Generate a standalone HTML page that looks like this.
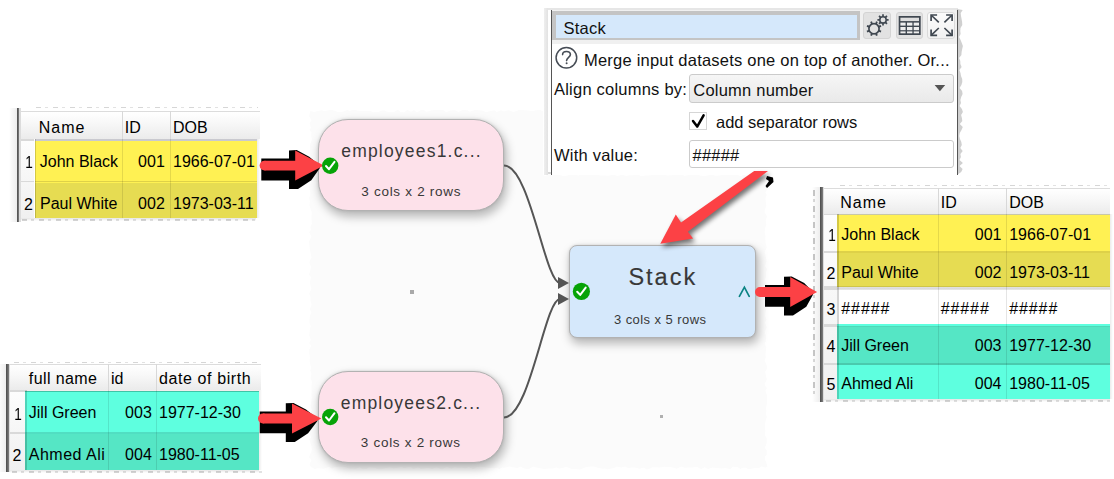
<!DOCTYPE html>
<html><head><meta charset="utf-8"><style>
html,body{margin:0;padding:0;width:1114px;height:479px;overflow:hidden;background:#fff;}
body{position:relative;font-family:"Liberation Sans", sans-serif;}
.t{position:absolute;white-space:nowrap;}
.r{position:absolute;}
svg{position:absolute;left:0;top:0;}
</style></head><body>
<div class="r" style="left:36px;top:107px;width:222.00px;height:1.00px;background:repeating-linear-gradient(90deg,#d6d6d6 0 5px,transparent 5px 9px,#e2e2e2 9px 12px,transparent 12px 17px);"></div>
<div class="r" style="left:22px;top:219px;width:236.00px;height:2.00px;background:repeating-linear-gradient(90deg,#d6d6d6 0 5px,transparent 5px 9px,#e2e2e2 9px 12px,transparent 12px 17px);"></div>
<div class="r" style="left:14px;top:362px;width:246.00px;height:1.00px;background:repeating-linear-gradient(90deg,#d6d6d6 0 5px,transparent 5px 9px,#e2e2e2 9px 12px,transparent 12px 17px);"></div>
<div class="r" style="left:12px;top:471px;width:250.00px;height:2.00px;background:repeating-linear-gradient(90deg,#d6d6d6 0 5px,transparent 5px 9px,#e2e2e2 9px 12px,transparent 12px 17px);"></div>
<div class="r" style="left:840px;top:185px;width:268.00px;height:1.00px;background:repeating-linear-gradient(90deg,#d6d6d6 0 5px,transparent 5px 9px,#e2e2e2 9px 12px,transparent 12px 17px);"></div>
<div class="r" style="left:826px;top:400px;width:284.00px;height:2.00px;background:repeating-linear-gradient(90deg,#d6d6d6 0 5px,transparent 5px 9px,#e2e2e2 9px 12px,transparent 12px 17px);"></div>
<div class="r" style="left:813px;top:190px;width:2.00px;height:208.00px;background:repeating-linear-gradient(180deg,#c8c8c8 0 6px,transparent 6px 9px,#dadada 9px 12px,transparent 12px 16px);"></div>
<div class="r" style="left:548px;top:172px;width:410.00px;height:2.00px;background:repeating-linear-gradient(90deg,#d6d6d6 0 5px,transparent 5px 9px,#e2e2e2 9px 12px,transparent 12px 17px);"></div>
<svg width="1114" height="479" style="position:absolute;left:0;top:0"><polygon points="310.5,110.9 314.2,112.1 317.6,111.0 321.3,110.2 324.9,111.3 329.3,109.9 332.2,109.9 336.6,111.5 338.7,112.3 343.6,111.4 347.5,110.1 349.5,111.1 351.7,110.2 354.4,109.8 357.8,110.8 362.3,111.0 366.2,111.0 370.2,110.9 373.1,112.3 378.1,111.9 382.2,110.5 384.9,110.5 387.1,111.7 390.3,111.9 393.4,112.2 398.0,109.7 400.6,112.1 404.0,112.2 407.2,109.9 411.1,111.7 413.9,109.9 416.9,112.2 421.2,110.0 423.9,110.0 426.1,111.8 428.6,111.2 432.0,110.2 436.2,110.0 440.1,110.0 443.4,110.3 446.2,112.2 450.6,110.5 455.2,110.2 458.4,111.9 462.3,110.0 467.3,110.3 470.1,111.7 473.1,110.5 475.3,109.9 479.0,110.3 482.9,110.7 486.2,112.2 489.7,111.2 494.3,110.2 496.7,112.1 501.2,110.3 503.7,111.6 508.6,110.2 513.4,112.0 517.2,110.8 519.5,109.8 524.4,110.3 528.5,110.4 533.0,111.3 535.9,110.2 540.1,109.9 542.7,111.2 543.0,111.0 543.0,175.0 543.0,175.3 545.8,176.0 548.5,173.8 551.3,174.9 553.4,174.2 556.5,175.2 558.9,174.7 563.6,176.2 567.6,175.5 571.3,174.1 573.4,173.8 578.2,175.5 583.1,173.9 587.0,175.0 591.2,174.6 596.2,174.0 599.8,175.6 604.5,175.6 608.6,175.7 613.4,174.6 617.4,176.0 622.0,174.8 626.4,175.9 630.1,175.3 633.3,175.2 637.1,174.0 641.0,176.2 645.6,175.5 648.8,175.6 652.6,174.9 657.1,174.0 661.3,173.9 665.1,175.0 667.8,175.5 671.3,175.3 676.1,174.4 678.1,174.5 682.1,174.3 684.6,176.0 688.6,174.9 693.3,174.6 697.3,174.3 700.6,175.7 705.3,175.9 708.5,175.2 711.4,174.1 714.9,175.8 719.5,175.5 724.3,174.5 726.8,174.9 729.7,174.3 732.9,175.3 736.4,174.6 740.9,176.2 744.3,174.0 746.3,175.9 748.5,175.5 752.2,174.5 756.6,173.8 759.0,174.9 761.0,175.8 763.8,174.1 765.9,175.3 765.6,175.0 765.1,179.0 765.4,183.8 766.1,186.4 767.5,189.0 765.4,192.4 766.7,194.9 765.4,198.0 765.7,201.5 766.3,205.8 764.8,210.2 764.7,212.4 767.1,216.6 765.6,220.0 766.4,224.7 764.9,228.4 764.7,232.8 765.5,236.2 765.3,238.8 765.6,243.2 766.9,247.4 764.6,252.1 765.9,257.0 766.5,261.4 764.9,266.1 767.3,269.2 765.8,272.5 766.0,276.8 765.1,278.9 765.1,281.1 766.5,283.6 767.1,288.0 766.0,290.4 765.0,294.6 764.7,298.7 764.7,302.1 766.8,304.4 766.6,308.0 765.6,312.2 765.0,315.7 766.6,319.4 765.0,322.5 766.9,327.2 764.6,331.8 765.8,335.4 765.9,338.0 765.7,341.5 764.6,343.6 766.3,347.1 765.8,351.5 765.4,355.0 765.9,357.2 764.6,360.4 766.7,365.2 767.1,368.6 765.1,371.9 766.1,376.6 766.9,379.6 764.7,383.4 765.2,385.8 766.9,387.9 765.4,390.6 766.4,393.5 767.2,397.4 767.1,401.6 766.7,405.1 765.9,407.7 766.4,411.0 765.9,414.3 766.9,416.7 765.6,420.6 764.9,424.2 764.9,428.1 765.3,430.8 764.8,435.2 766.6,438.1 766.8,442.9 764.8,447.9 766.8,450.3 766.7,454.5 765.0,456.8 765.1,460.0 766.3,462.4 767.4,466.5 766.0,467.5 761.3,466.6 758.9,468.0 754.6,468.0 750.6,468.9 748.4,469.2 746.3,467.8 742.7,467.8 740.3,468.9 737.7,467.0 732.7,466.7 730.4,469.3 725.6,468.1 721.3,468.5 717.9,468.0 714.6,467.7 712.5,467.4 708.0,469.0 704.6,467.3 701.4,468.9 698.9,468.0 696.9,466.8 692.5,467.4 687.9,467.6 684.7,467.7 681.2,466.6 676.8,468.7 672.0,467.3 667.7,467.1 664.5,466.8 659.8,467.4 655.5,467.2 652.3,467.3 650.1,468.5 646.7,469.5 643.6,467.6 639.8,468.8 634.9,467.5 631.9,467.5 628.2,467.9 625.0,466.5 621.1,467.4 616.8,466.6 614.7,467.7 610.5,468.7 607.3,469.3 604.7,468.4 602.4,468.7 597.7,467.8 594.2,466.6 590.5,466.5 586.6,467.1 584.4,467.7 580.1,469.4 575.3,469.0 571.9,469.0 568.4,467.7 566.2,466.7 562.9,467.9 559.2,468.4 556.3,467.5 552.6,468.6 548.5,468.6 546.4,468.8 544.3,469.0 540.0,468.3 535.3,467.3 533.2,466.5 528.4,469.3 523.6,468.2 520.2,466.6 517.5,467.9 512.7,467.3 509.3,466.6 504.8,467.7 502.5,467.6 499.1,468.9 496.9,467.9 494.6,468.2 490.6,468.1 487.8,467.8 484.5,467.2 480.9,466.5 476.1,467.3 473.4,469.2 468.7,467.1 464.8,468.4 462.0,467.4 458.3,467.7 454.4,467.2 451.8,468.8 446.9,466.8 442.2,469.4 440.1,468.7 436.8,467.6 434.5,467.9 432.3,469.2 428.2,467.8 424.3,468.4 420.9,468.9 417.9,467.3 413.4,469.3 411.0,467.1 407.1,467.2 404.5,468.2 401.7,467.1 398.6,467.5 393.6,468.5 390.0,467.3 385.2,468.2 382.1,469.2 377.5,469.3 375.2,467.8 371.8,467.4 368.9,467.2 366.7,468.9 362.7,469.3 359.8,467.3 355.7,468.7 353.3,468.4 349.1,468.4 346.7,467.4 343.0,466.7 338.2,466.8 334.9,467.1 332.0,468.5 328.8,466.7 324.1,468.8 321.0,468.4 317.9,468.3 314.8,468.9 311.1,467.1 311.5,468.0 309.5,464.3 311.6,460.0 309.1,457.2 310.6,453.6 311.9,449.9 311.4,446.0 310.6,443.8 309.3,439.4 311.2,437.2 309.3,432.5 309.4,428.6 310.9,424.3 309.7,421.6 310.6,417.3 310.2,413.0 311.9,410.0 310.5,406.0 311.2,402.4 311.7,398.3 311.5,395.0 311.6,391.0 311.5,386.6 311.9,381.9 310.6,378.0 311.4,373.9 310.3,370.6 311.2,368.2 310.1,363.2 309.6,360.7 309.9,357.4 309.2,352.5 309.3,349.6 311.3,345.7 309.2,343.1 310.8,339.7 309.1,335.0 309.6,332.7 309.7,330.0 310.8,325.9 309.6,323.2 309.5,320.4 309.9,316.1 311.5,312.5 309.8,309.0 311.7,304.4 310.6,301.3 310.4,296.5 309.1,293.8 311.4,288.9 310.6,285.8 309.8,282.2 311.0,277.3 309.0,274.6 310.1,271.1 311.1,266.8 309.5,262.9 310.0,260.5 311.6,257.7 310.9,254.1 309.8,249.2 309.5,245.6 309.0,241.2 311.5,236.8 309.2,232.3 311.1,229.5 310.4,227.2 311.9,223.8 311.6,220.0 311.4,217.1 311.8,213.9 311.5,211.6 310.6,209.0 309.5,205.4 309.9,200.9 309.2,198.0 310.4,195.1 310.1,190.9 309.3,186.9 310.4,183.7 311.5,178.8 309.0,174.8 311.1,171.7 310.7,169.0 309.0,165.6 311.4,160.6 310.8,158.0 310.1,155.1 309.9,151.5 310.2,148.5 309.8,144.5 311.2,141.9 311.8,138.9 311.2,135.2 311.5,132.2 309.4,129.9 311.0,127.7 309.5,123.5 311.5,120.3 309.3,116.6 309.5,113.9 310.2,111.5" fill="#fbfbfb"/></svg>
<div class="r" style="left:8.8px;top:108px;width:8.00px;height:114.00px;background:linear-gradient(90deg,rgba(0,0,0,0),rgba(0,0,0,0.07));"></div>
<div class="r" style="left:16.8px;top:108px;width:2.50px;height:114.00px;background:linear-gradient(90deg,#4a4a4a,#808080);"></div>
<div class="r" style="left:19.3px;top:108px;width:1.50px;height:114.00px;background:#dcdcdc;"></div>
<div class="r" style="left:20.8px;top:111.3px;width:239.20px;height:27.70px;background:linear-gradient(#ffffff,#f7f7f7 45%,#ebebeb);border-top:1px solid #dcdcdc;box-sizing:border-box;"></div>
<div class="r" style="left:20.8px;top:139px;width:13.70px;height:78.70px;background:linear-gradient(#fdfdfd,#f0f0f0);"></div>
<div class="r" style="left:34.5px;top:139px;width:222.00px;height:43.50px;background:#fff153;"></div>
<div class="r" style="left:34.5px;top:182.5px;width:222.00px;height:35.20px;background:#e6dc52;"></div>
<div class="r" style="left:20.8px;top:139px;width:13.70px;height:1.60px;background:#d9d9d9;"></div>
<div class="r" style="left:34.5px;top:139px;width:222.00px;height:1.60px;background:#c9c9cf;"></div>
<div class="r" style="left:20.8px;top:181.1px;width:13.70px;height:1.40px;background:#d9d9d9;"></div>
<div class="r" style="left:34.5px;top:181.1px;width:222.00px;height:1.40px;background:rgba(0,0,0,0.13);"></div>
<div class="r" style="left:122px;top:139px;width:1.00px;height:78.70px;background:rgba(0,0,0,0.10);"></div>
<div class="r" style="left:122px;top:111.3px;width:1.00px;height:27.70px;background:#d8d8d8;"></div>
<div class="r" style="left:170px;top:139px;width:1.00px;height:78.70px;background:rgba(0,0,0,0.10);"></div>
<div class="r" style="left:170px;top:111.3px;width:1.00px;height:27.70px;background:#d8d8d8;"></div>
<div class="r" style="left:34.5px;top:139px;width:1.50px;height:78.70px;background:rgba(0,0,0,0.17);"></div>
<div class="r" style="left:20.8px;top:217.7px;width:235.70px;height:3.00px;background:linear-gradient(rgba(0,0,0,0.10),rgba(0,0,0,0));"></div>
<div class="r" style="left:256.5px;top:139px;width:3.00px;height:78.70px;background:linear-gradient(90deg,rgba(0,0,0,0.08),rgba(0,0,0,0));"></div>
<div class="t" style="left:38.70px;top:119px;font-size:16px;line-height:17.872px;color:#000;letter-spacing:1px;">Name</div>
<div class="t" style="left:124.80px;top:119px;font-size:16px;line-height:17.872px;color:#000;">ID</div>
<div class="t" style="left:173.00px;top:119px;font-size:16px;line-height:17.872px;color:#000;">DOB</div>
<div class="t" style="right:1081.00px;text-align:right;top:154px;font-size:16px;line-height:17.872px;color:#000;transform:scaleX(0.85);transform-origin:right;">1</div>
<div class="t" style="right:1081.00px;text-align:right;top:196px;font-size:16px;line-height:17.872px;color:#000;">2</div>
<div class="t" style="left:39.80px;top:153px;font-size:16px;line-height:17.872px;color:#000;">John Black</div>
<div class="t" style="right:949.20px;text-align:right;top:153px;font-size:16px;line-height:17.872px;color:#000;">001</div>
<div class="t" style="left:173.00px;top:153px;font-size:16px;line-height:17.872px;color:#000;">1966-07-01</div>
<div class="t" style="left:40.00px;top:195px;font-size:16px;line-height:17.872px;color:#000;">Paul White</div>
<div class="t" style="right:949.20px;text-align:right;top:195px;font-size:16px;line-height:17.872px;color:#000;">002</div>
<div class="t" style="left:173.00px;top:195px;font-size:16px;line-height:17.872px;color:#000;">1973-03-11</div>
<div class="r" style="left:-1.7000000000000002px;top:363.8px;width:8.00px;height:107.80px;background:linear-gradient(90deg,rgba(0,0,0,0),rgba(0,0,0,0.07));"></div>
<div class="r" style="left:6.3px;top:363.8px;width:2.50px;height:107.80px;background:linear-gradient(90deg,#4a4a4a,#808080);"></div>
<div class="r" style="left:8.8px;top:363.8px;width:1.50px;height:107.80px;background:#dcdcdc;"></div>
<div class="r" style="left:10.3px;top:364.4px;width:250.70px;height:25.40px;background:linear-gradient(#ffffff,#f7f7f7 45%,#ebebeb);border-top:1px solid #dcdcdc;box-sizing:border-box;"></div>
<div class="r" style="left:10.3px;top:389.8px;width:14.70px;height:80.10px;background:linear-gradient(#fdfdfd,#f0f0f0);"></div>
<div class="r" style="left:25px;top:389.8px;width:234.00px;height:44.00px;background:#5effdf;"></div>
<div class="r" style="left:25px;top:433.8px;width:234.00px;height:36.10px;background:#55e6c5;"></div>
<div class="r" style="left:10.3px;top:389.8px;width:14.70px;height:1.10px;background:#d9d9d9;"></div>
<div class="r" style="left:25px;top:389.8px;width:234.00px;height:1.10px;background:#f2eded;"></div>
<div class="r" style="left:10.3px;top:390.9px;width:14.70px;height:1.20px;background:#d9d9d9;"></div>
<div class="r" style="left:25px;top:390.9px;width:234.00px;height:1.20px;background:#3fc4a6;"></div>
<div class="r" style="left:10.3px;top:432.1px;width:14.70px;height:1.70px;background:#d9d9d9;"></div>
<div class="r" style="left:25px;top:432.1px;width:234.00px;height:1.70px;background:rgba(0,0,0,0.13);"></div>
<div class="r" style="left:108px;top:389.8px;width:1.00px;height:80.10px;background:rgba(0,0,0,0.10);"></div>
<div class="r" style="left:108px;top:364.4px;width:1.00px;height:25.40px;background:#d8d8d8;"></div>
<div class="r" style="left:156px;top:389.8px;width:1.00px;height:80.10px;background:rgba(0,0,0,0.10);"></div>
<div class="r" style="left:156px;top:364.4px;width:1.00px;height:25.40px;background:#d8d8d8;"></div>
<div class="r" style="left:25px;top:389.8px;width:1.50px;height:80.10px;background:rgba(0,0,0,0.17);"></div>
<div class="r" style="left:10.3px;top:469.9px;width:248.70px;height:3.00px;background:linear-gradient(rgba(0,0,0,0.10),rgba(0,0,0,0));"></div>
<div class="r" style="left:259px;top:389.8px;width:3.00px;height:80.10px;background:linear-gradient(90deg,rgba(0,0,0,0.08),rgba(0,0,0,0));"></div>
<div class="t" style="left:28.80px;top:370px;font-size:16px;line-height:17.872px;color:#000;letter-spacing:0.4px;">full name</div>
<div class="t" style="left:111.00px;top:370px;font-size:16px;line-height:17.872px;color:#000;">id</div>
<div class="t" style="left:159.00px;top:370px;font-size:16px;line-height:17.872px;color:#000;letter-spacing:0.6px;">date of birth</div>
<div class="t" style="right:1092.50px;text-align:right;top:406px;font-size:16px;line-height:17.872px;color:#000;transform:scaleX(0.85);transform-origin:right;">1</div>
<div class="t" style="right:1092.50px;text-align:right;top:447px;font-size:16px;line-height:17.872px;color:#000;">2</div>
<div class="t" style="left:28.80px;top:404px;font-size:16px;line-height:17.872px;color:#000;">Jill Green</div>
<div class="t" style="right:962.20px;text-align:right;top:404px;font-size:16px;line-height:17.872px;color:#000;">003</div>
<div class="t" style="left:159.00px;top:404px;font-size:16px;line-height:17.872px;color:#000;">1977-12-30</div>
<div class="t" style="left:28.80px;top:446px;font-size:16px;line-height:17.872px;color:#000;letter-spacing:0.5px;">Ahmed Ali</div>
<div class="t" style="right:962.20px;text-align:right;top:446px;font-size:16px;line-height:17.872px;color:#000;">004</div>
<div class="t" style="left:159.00px;top:446px;font-size:16px;line-height:17.872px;color:#000;">1980-11-05</div>
<div class="r" style="left:812px;top:187px;width:8.00px;height:215.00px;background:linear-gradient(90deg,rgba(0,0,0,0),rgba(0,0,0,0.07));"></div>
<div class="r" style="left:820px;top:187px;width:2.50px;height:215.00px;background:linear-gradient(90deg,#4a4a4a,#808080);"></div>
<div class="r" style="left:822.5px;top:187px;width:1.50px;height:215.00px;background:#dcdcdc;"></div>
<div class="r" style="left:824px;top:187.5px;width:285.50px;height:26.50px;background:linear-gradient(#ffffff,#f7f7f7 45%,#ebebeb);border-top:1px solid #dcdcdc;box-sizing:border-box;"></div>
<div class="r" style="left:824px;top:214px;width:13.00px;height:185.00px;background:linear-gradient(#fdfdfd,#f0f0f0);"></div>
<div class="r" style="left:837px;top:214px;width:272.50px;height:38.70px;background:#fff153;"></div>
<div class="r" style="left:837px;top:252.7px;width:272.50px;height:34.30px;background:#e6dc52;"></div>
<div class="r" style="left:837px;top:287px;width:272.50px;height:36.60px;background:#ffffff;"></div>
<div class="r" style="left:837px;top:323.6px;width:272.50px;height:41.20px;background:#55e6c5;"></div>
<div class="r" style="left:837px;top:364.8px;width:272.50px;height:34.20px;background:#5effdf;"></div>
<div class="r" style="left:824px;top:214px;width:13.00px;height:1.20px;background:#d9d9d9;"></div>
<div class="r" style="left:837px;top:214px;width:272.50px;height:1.20px;background:#c8c8a8;"></div>
<div class="r" style="left:824px;top:251.1px;width:13.00px;height:1.60px;background:#d9d9d9;"></div>
<div class="r" style="left:837px;top:251.1px;width:272.50px;height:1.60px;background:rgba(0,0,0,0.13);"></div>
<div class="r" style="left:824px;top:285.8px;width:13.00px;height:1.20px;background:#d9d9d9;"></div>
<div class="r" style="left:837px;top:285.8px;width:272.50px;height:1.20px;background:rgba(0,0,0,0.10);"></div>
<div class="r" style="left:824px;top:287px;width:13.00px;height:3.20px;background:#d9d9d9;"></div>
<div class="r" style="left:837px;top:287px;width:272.50px;height:3.20px;background:linear-gradient(#e2e2e2,#d8d8d8 70%,#f4f4f4);"></div>
<div class="r" style="left:824px;top:323.6px;width:13.00px;height:2.30px;background:#d9d9d9;"></div>
<div class="r" style="left:837px;top:323.6px;width:272.50px;height:2.30px;background:#5effdf;"></div>
<div class="r" style="left:824px;top:325.9px;width:13.00px;height:1.60px;background:#d9d9d9;"></div>
<div class="r" style="left:837px;top:325.9px;width:272.50px;height:1.60px;background:#4fd9b9;"></div>
<div class="r" style="left:824px;top:362.9px;width:13.00px;height:1.90px;background:#d9d9d9;"></div>
<div class="r" style="left:837px;top:362.9px;width:272.50px;height:1.90px;background:rgba(0,0,0,0.12);"></div>
<div class="r" style="left:937.5px;top:214px;width:1.00px;height:185.00px;background:rgba(0,0,0,0.10);"></div>
<div class="r" style="left:937.5px;top:187.5px;width:1.00px;height:26.50px;background:#d8d8d8;"></div>
<div class="r" style="left:1005.6px;top:214px;width:1.00px;height:185.00px;background:rgba(0,0,0,0.10);"></div>
<div class="r" style="left:1005.6px;top:187.5px;width:1.00px;height:26.50px;background:#d8d8d8;"></div>
<div class="r" style="left:837px;top:214px;width:1.50px;height:185.00px;background:rgba(0,0,0,0.17);"></div>
<div class="r" style="left:824px;top:399px;width:285.50px;height:3.00px;background:linear-gradient(rgba(0,0,0,0.10),rgba(0,0,0,0));"></div>
<div class="r" style="left:1109.5px;top:214px;width:3.00px;height:185.00px;background:linear-gradient(90deg,rgba(0,0,0,0.08),rgba(0,0,0,0));"></div>
<div class="t" style="left:840.30px;top:194px;font-size:16px;line-height:17.872px;color:#000;letter-spacing:1px;">Name</div>
<div class="t" style="left:940.70px;top:194px;font-size:16px;line-height:17.872px;color:#000;">ID</div>
<div class="t" style="left:1009.20px;top:194px;font-size:16px;line-height:17.872px;color:#000;">DOB</div>
<div class="t" style="right:278.50px;text-align:right;top:227px;font-size:16px;line-height:17.872px;color:#000;transform:scaleX(0.85);transform-origin:right;">1</div>
<div class="t" style="right:278.50px;text-align:right;top:265px;font-size:16px;line-height:17.872px;color:#000;">2</div>
<div class="t" style="right:278.50px;text-align:right;top:301px;font-size:16px;line-height:17.872px;color:#000;">3</div>
<div class="t" style="right:278.50px;text-align:right;top:338px;font-size:16px;line-height:17.872px;color:#000;">4</div>
<div class="t" style="right:278.50px;text-align:right;top:376px;font-size:16px;line-height:17.872px;color:#000;">5</div>
<div class="t" style="left:841.30px;top:226px;font-size:16px;line-height:17.872px;color:#000;">John Black</div>
<div class="t" style="right:112.50px;text-align:right;top:226px;font-size:16px;line-height:17.872px;color:#000;">001</div>
<div class="t" style="left:1009.20px;top:226px;font-size:16px;line-height:17.872px;color:#000;">1966-07-01</div>
<div class="t" style="left:841.30px;top:264px;font-size:16px;line-height:17.872px;color:#000;">Paul White</div>
<div class="t" style="right:112.50px;text-align:right;top:264px;font-size:16px;line-height:17.872px;color:#000;">002</div>
<div class="t" style="left:1009.20px;top:264px;font-size:16px;line-height:17.872px;color:#000;">1973-03-11</div>
<div class="t" style="left:841.30px;top:300px;font-size:16px;line-height:17.872px;color:#000;letter-spacing:0.9px;">#####</div>
<div class="t" style="left:940.70px;top:300px;font-size:16px;line-height:17.872px;color:#000;letter-spacing:0.9px;">#####</div>
<div class="t" style="left:1009.20px;top:300px;font-size:16px;line-height:17.872px;color:#000;letter-spacing:0.9px;">#####</div>
<div class="t" style="left:841.30px;top:337px;font-size:16px;line-height:17.872px;color:#000;">Jill Green</div>
<div class="t" style="right:112.50px;text-align:right;top:337px;font-size:16px;line-height:17.872px;color:#000;">003</div>
<div class="t" style="left:1009.20px;top:337px;font-size:16px;line-height:17.872px;color:#000;">1977-12-30</div>
<div class="t" style="left:841.30px;top:375px;font-size:16px;line-height:17.872px;color:#000;">Ahmed Ali</div>
<div class="t" style="right:112.50px;text-align:right;top:375px;font-size:16px;line-height:17.872px;color:#000;">004</div>
<div class="t" style="left:1009.20px;top:375px;font-size:16px;line-height:17.872px;color:#000;">1980-11-05</div>
<div class="r" style="left:543.5px;top:7.5px;width:4.50px;height:167.50px;background:linear-gradient(90deg,#efefef,#e2e2e2);"></div>
<div class="r" style="left:548px;top:7.5px;width:410.00px;height:2.00px;background:#e6e6e6;"></div>
<svg width="1114" height="479" style="position:absolute;left:0;top:0"><polygon points="957.0,9.0 962.7,10.0 960.7,13.0 961.0,16.0 961.6,19.0 962.1,22.0 962.3,25.0 960.5,28.0 960.3,31.0 960.6,34.0 959.1,37.0 960.6,40.0 961.8,43.0 962.9,46.0 962.2,49.0 961.6,52.0 961.4,55.0 959.1,58.0 960.3,61.0 960.4,64.0 961.6,67.0 959.4,70.0 960.5,73.0 961.0,76.0 962.2,79.0 962.3,82.0 961.4,85.0 959.6,88.0 962.1,91.0 962.6,94.0 961.2,97.0 960.4,100.0 961.0,103.0 959.6,106.0 961.9,109.0 962.9,112.0 961.1,115.0 961.9,118.0 962.3,121.0 959.8,124.0 962.8,127.0 961.5,130.0 959.8,133.0 959.3,136.0 960.0,139.0 961.3,142.0 961.8,145.0 960.3,148.0 962.7,151.0 960.4,154.0 960.9,157.0 959.5,160.0 962.9,163.0 959.5,166.0 962.6,169.0 961.2,172.0 957.0,175.0" fill="#d0d0d0"/></svg>
<div class="r" style="left:550.9px;top:9.6px;width:407.10px;height:165.40px;background:#fff;border-left:1.2px solid #555;border-top:1.2px solid #555;border-right:1.8px solid #555;box-sizing:border-box;"></div>
<div class="r" style="left:552px;top:10px;width:405.00px;height:34.00px;background:#f0f0f0;"></div>
<div class="r" style="left:552.2px;top:10.8px;width:307.80px;height:29.30px;background:#d5e8fb;border-style:solid;border-color:#c4c4c4;border-width:4.2px 3px 2.1px 4.8px;box-sizing:border-box;"></div>
<div class="t" style="left:563.50px;top:19px;font-size:16.5px;line-height:18.430px;color:#111;letter-spacing:0.22px;">Stack</div>
<div class="r" style="left:863.3px;top:12.3px;width:28.10px;height:27.10px;background:#e2e2e2;border:1px solid #d4d4d4;border-radius:3px;box-sizing:border-box;"></div>
<div class="r" style="left:895.7px;top:12.3px;width:27.70px;height:27.10px;background:#e2e2e2;border:1px solid #d4d4d4;border-radius:3px;box-sizing:border-box;"></div>
<div class="r" style="left:927.4px;top:12.3px;width:27.70px;height:27.10px;background:linear-gradient(#fbfbfb,#f2f2f2);border:1px solid #dadada;border-radius:3px;box-sizing:border-box;"></div>
<div class="t" style="left:584.00px;top:51px;font-size:16.5px;line-height:18.430px;color:#111;letter-spacing:0.22px;">Merge input datasets one on top of another. Or...</div>
<div class="t" style="left:554.00px;top:80px;font-size:16.5px;line-height:18.430px;color:#111;letter-spacing:0.22px;">Align columns by:</div>
<div class="r" style="left:689.2px;top:73.5px;width:265.20px;height:29.70px;background:linear-gradient(#f6f6f6,#e9e9e9);border:1px solid #cbcbcb;border-radius:3px;box-sizing:border-box;"></div>
<div class="t" style="left:693.30px;top:81px;font-size:16.5px;line-height:18.430px;color:#111;letter-spacing:0.22px;">Column number</div>
<div class="r" style="left:689.3px;top:111.8px;width:18.20px;height:18.50px;background:#fff;border:1.2px solid #d6d6d6;box-sizing:border-box;"></div>
<div class="t" style="left:716.00px;top:113px;font-size:16.5px;line-height:18.430px;color:#111;">add separator rows</div>
<div class="t" style="left:554.00px;top:146px;font-size:16.5px;line-height:18.430px;color:#111;letter-spacing:0.22px;">With value:</div>
<div class="r" style="left:689.3px;top:139.5px;width:265.10px;height:28.90px;background:#fff;border:1px solid #cbcbcb;border-radius:3px;box-sizing:border-box;"></div>
<div class="t" style="left:692.50px;top:146px;font-size:16.5px;line-height:18.430px;color:#111;letter-spacing:0.22px;">#####</div>
<div class="r" style="left:318px;top:118.8px;width:186.20px;height:92.40px;background:#fde1ea;border:1.4px solid #b2b2b2;border-radius:30px;box-sizing:border-box;box-shadow:0 0 3px rgba(0,0,0,0.12),2px 5px 10px 1px rgba(0,0,0,0.26);"></div>
<div class="r" style="left:317.5px;top:370.8px;width:186.30px;height:92.00px;background:#fde1ea;border:1.4px solid #b2b2b2;border-radius:30px;box-sizing:border-box;box-shadow:0 0 3px rgba(0,0,0,0.12),2px 5px 10px 1px rgba(0,0,0,0.26);"></div>
<div class="r" style="left:568.8px;top:244.6px;width:186.80px;height:93.40px;background:#d5e8fb;border:1.4px solid #b2b2b2;border-radius:8px;box-sizing:border-box;box-shadow:0 0 3px rgba(0,0,0,0.12),2px 5px 10px 1px rgba(0,0,0,0.26);"></div>
<div class="t" style="left:110.90px;width:600px;text-align:center;top:142px;font-size:17.5px;line-height:19.547px;color:#383838;letter-spacing:1.2px;text-indent:1.2px;">employees1.c...</div>
<div class="t" style="left:110.90px;width:600px;text-align:center;top:184px;font-size:13.5px;line-height:15.079px;color:#383838;letter-spacing:0.7px;text-indent:0.7px;">3 cols x 2 rows</div>
<div class="t" style="left:110.40px;width:600px;text-align:center;top:394px;font-size:17.5px;line-height:19.547px;color:#383838;letter-spacing:1.2px;text-indent:1.2px;">employees2.c...</div>
<div class="t" style="left:110.40px;width:600px;text-align:center;top:435px;font-size:13.5px;line-height:15.079px;color:#383838;letter-spacing:0.7px;text-indent:0.7px;">3 cols x 2 rows</div>
<div class="t" style="left:361.80px;width:600px;text-align:center;top:264px;font-size:23.5px;line-height:26.250px;color:#383838;letter-spacing:2px;text-indent:2px;-webkit-text-stroke:0.15px #383838;">Stack</div>
<div class="t" style="left:360.00px;width:600px;text-align:center;top:313px;font-size:13px;line-height:14.521px;color:#383838;letter-spacing:0.43px;text-indent:0.43px;">3 cols x 5 rows</div>
<div class="r" style="left:409.5px;top:289.5px;width:4.00px;height:4.00px;background:#a9a9a9;"></div>
<div class="r" style="left:660px;top:415px;width:3.00px;height:3.00px;background:#b0b0b0;"></div>
<svg width="1114" height="479" viewBox="0 0 1114 479">
<defs><filter id="blur" x="-20%" y="-20%" width="140%" height="140%"><feGaussianBlur stdDeviation="2.5"/></filter></defs>
<path d="M504,165.5 C530,165.5 545,283 560,283" fill="none" stroke="#555" stroke-width="2"/>
<path d="M504,417.5 C530,417.5 545,299 560,299" fill="none" stroke="#555" stroke-width="2"/>
<polygon points="569,283 558,277 558,289" fill="#555"/>
<polygon points="569,299 558,293 558,305" fill="#555"/>
<path d="M739.4,296.3 L744.4,287.2 L749.2,296.3" fill="none" stroke="#0a8383" stroke-width="1.7" stroke-linecap="round"/>
<circle cx="566.4" cy="57.8" r="10.3" fill="none" stroke="#464c55" stroke-width="1.5"/>
<path d="M562.6,54.6 C562.6,50.6 570.4,50.4 570.4,54.4 C570.4,57.2 566.6,57.4 566.6,60.6" fill="none" stroke="#464c55" stroke-width="1.6" stroke-linecap="round"/><circle cx="566.6" cy="63.2" r="1" fill="#464c55"/>
<polygon points="934.6,85 945.2,85 939.9,91.3" fill="#555"/>
<path d="M693,121 L697.2,126.6 L703.6,115.3" fill="none" stroke="#000" stroke-width="2.5" stroke-linecap="round" stroke-linejoin="round"/>
<circle cx="874" cy="28.7" r="5.1" fill="none" stroke="#3f4750" stroke-width="1.7"/>
<line x1="878.71" y1="30.65" x2="881.02" y2="31.61" stroke="#3f4750" stroke-width="1.9"/>
<line x1="875.95" y1="33.41" x2="876.91" y2="35.72" stroke="#3f4750" stroke-width="1.9"/>
<line x1="872.05" y1="33.41" x2="871.09" y2="35.72" stroke="#3f4750" stroke-width="1.9"/>
<line x1="869.29" y1="30.65" x2="866.98" y2="31.61" stroke="#3f4750" stroke-width="1.9"/>
<line x1="869.29" y1="26.75" x2="866.98" y2="25.79" stroke="#3f4750" stroke-width="1.9"/>
<line x1="872.05" y1="23.99" x2="871.09" y2="21.68" stroke="#3f4750" stroke-width="1.9"/>
<line x1="875.95" y1="23.99" x2="876.91" y2="21.68" stroke="#3f4750" stroke-width="1.9"/>
<line x1="878.71" y1="26.75" x2="881.02" y2="25.79" stroke="#3f4750" stroke-width="1.9"/>
<circle cx="883" cy="19.9" r="3.2" fill="none" stroke="#3f4750" stroke-width="1.5"/>
<line x1="886.20" y1="19.90" x2="888.60" y2="19.90" stroke="#3f4750" stroke-width="1.7"/>
<line x1="885.26" y1="22.16" x2="886.96" y2="23.86" stroke="#3f4750" stroke-width="1.7"/>
<line x1="883.00" y1="23.10" x2="883.00" y2="25.50" stroke="#3f4750" stroke-width="1.7"/>
<line x1="880.74" y1="22.16" x2="879.04" y2="23.86" stroke="#3f4750" stroke-width="1.7"/>
<line x1="879.80" y1="19.90" x2="877.40" y2="19.90" stroke="#3f4750" stroke-width="1.7"/>
<line x1="880.74" y1="17.64" x2="879.04" y2="15.94" stroke="#3f4750" stroke-width="1.7"/>
<line x1="883.00" y1="16.70" x2="883.00" y2="14.30" stroke="#3f4750" stroke-width="1.7"/>
<line x1="885.26" y1="17.64" x2="886.96" y2="15.94" stroke="#3f4750" stroke-width="1.7"/>
<rect x="898.7" y="16" width="22" height="19" fill="#3f4750"/>
<rect x="900.4" y="17.7" width="18.6" height="3.4" fill="#dedede"/>
<rect x="900.4" y="22.6" width="5.2" height="3.0" fill="#eeeeee"/>
<rect x="900.4" y="27.0" width="5.2" height="3.2" fill="#eeeeee"/>
<rect x="900.4" y="31.4" width="5.2" height="1.9" fill="#eeeeee"/>
<rect x="907.0" y="22.6" width="5.4" height="3.0" fill="#eeeeee"/>
<rect x="907.0" y="27.0" width="5.4" height="3.2" fill="#eeeeee"/>
<rect x="907.0" y="31.4" width="5.4" height="1.9" fill="#eeeeee"/>
<rect x="913.7" y="22.6" width="5.3" height="3.0" fill="#eeeeee"/>
<rect x="913.7" y="27.0" width="5.3" height="3.2" fill="#eeeeee"/>
<rect x="913.7" y="31.4" width="5.3" height="1.9" fill="#eeeeee"/>
<path d="M937.1,15 L931.1,15 L931.1,21" fill="none" stroke="#3f4750" stroke-width="1.7"/>
<line x1="931.6" y1="15.5" x2="938.8000000000001" y2="22.4" stroke="#3f4750" stroke-width="1.6"/>
<path d="M946.1,15 L952.1,15 L952.1,21" fill="none" stroke="#3f4750" stroke-width="1.7"/>
<line x1="951.6" y1="15.5" x2="944.4" y2="22.4" stroke="#3f4750" stroke-width="1.6"/>
<path d="M937.1,35.4 L931.1,35.4 L931.1,29.4" fill="none" stroke="#3f4750" stroke-width="1.7"/>
<line x1="931.6" y1="34.9" x2="938.8000000000001" y2="28.0" stroke="#3f4750" stroke-width="1.6"/>
<path d="M946.1,35.4 L952.1,35.4 L952.1,29.4" fill="none" stroke="#3f4750" stroke-width="1.7"/>
<line x1="951.6" y1="34.9" x2="944.4" y2="28.0" stroke="#3f4750" stroke-width="1.6"/>
<polygon points="261.3,158.5 289.0,158.5 289.0,150.4 296.7,150.0 309.2,156.7 319.9,165.6 319.9,168.1 311.3,180.3 298.0,189.0 289.0,189.0 289.0,180.4 261.3,180.4" fill="#000"/>
<polygon points="264.5,160.7 295.2,160.7 295.2,150.6 323.9,165.6 295.2,180.6 295.2,170.5 264.5,170.5" fill="#fc4145"/>
<circle cx="264.5" cy="165.6" r="4.9" fill="#fc4145"/>
<polygon points="259.7,411.4 285.8,411.4 285.8,403.3 293.5,402.9 306.0,409.6 317.4,418.5 317.4,421.0 308.1,433.2 294.8,441.9 285.8,441.9 285.8,433.3 259.7,433.3" fill="#000"/>
<polygon points="262.9,413.6 292.0,413.6 292.0,403.5 321.4,418.5 292.0,433.5 292.0,423.4 262.9,423.4" fill="#fc4145"/>
<circle cx="262.9" cy="418.5" r="4.9" fill="#fc4145"/>
<polygon points="765.0,284.9 784.0,284.9 784.0,276.8 791.7,276.4 804.2,283.1 813.1,292.0 813.1,294.5 806.3,306.7 793.0,315.4 784.0,315.4 784.0,306.8 765.0,306.8" fill="#000"/>
<polygon points="759.9,287.1 790.2,287.1 790.2,277.0 817.1,292.0 790.2,307.0 790.2,296.9 759.9,296.9" fill="#fc4145"/>
<circle cx="759.9" cy="292" r="4.9" fill="#fc4145"/>
<g filter="url(#blur)" opacity="0.55"><polygon points="754.2,171 681,222.6 675.8,214.5 660.3,243.8 693.1,238.6 687.9,231.7 768,171" transform="translate(2,3.5)" fill="#000"/></g>
<polygon points="754.2,171 681,222.6 675.8,214.5 660.3,243.8 693.1,238.6 687.9,231.7 768,171" fill="#fc4145"/>
<path d="M767,176 L773,177.5 L773.5,182 L767,188 L765.5,186 L769,181 L766,179 Z" fill="#000"/>
<circle cx="330.2" cy="165.7" r="8.2" fill="#07a307"/>
<path d="M326.0,166.0 L329.0,169.2 L334.5,161.89999999999998" fill="none" stroke="#fff" stroke-width="2.0" stroke-linecap="round" stroke-linejoin="round"/>
<circle cx="330.2" cy="417" r="8.2" fill="#07a307"/>
<path d="M326.0,417.3 L329.0,420.5 L334.5,413.2" fill="none" stroke="#fff" stroke-width="2.0" stroke-linecap="round" stroke-linejoin="round"/>
<circle cx="581.4" cy="291.4" r="8.6" fill="#07a307"/>
<path d="M577.1999999999999,291.7 L580.1999999999999,294.9 L585.6999999999999,287.59999999999997" fill="none" stroke="#fff" stroke-width="2.0" stroke-linecap="round" stroke-linejoin="round"/>
</svg>
</body></html>
